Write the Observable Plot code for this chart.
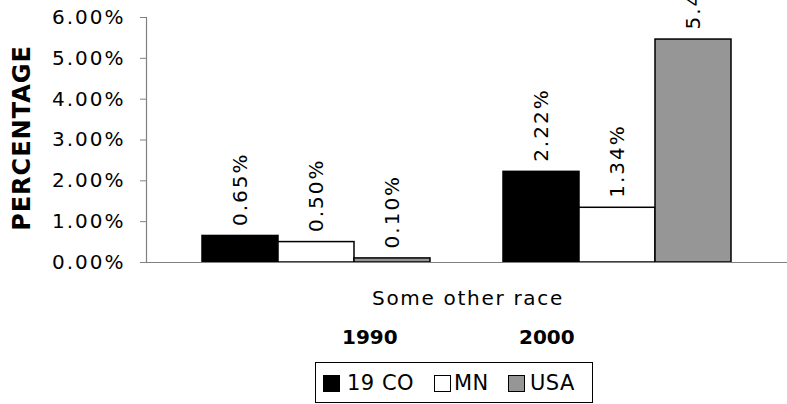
<!DOCTYPE html>
<html>
<head>
<meta charset="utf-8">
<script src="https://cdn.jsdelivr.net/npm/d3@7"></script>
<script src="https://cdn.jsdelivr.net/npm/@observablehq/plot@0.6"></script>
<style>
  html, body { margin: 0; padding: 0; background: #fff; }
  #wrap { position: relative; width: 787px; height: 404px; overflow: hidden; font-family: "DejaVu Sans", Verdana, sans-serif; }
  #wrap svg { position: absolute; left: 0; top: 0; overflow: visible; }
  .ov { position: absolute; white-space: nowrap; color: #000; line-height: 1; }
  .ylab { font-weight: bold; font-size: 24px; letter-spacing: 1px; transform-origin: center; }
  .legend { position: absolute; border: 1px solid #000; box-sizing: border-box; }
  .sw { position: absolute; width: 17px; height: 17px; border: 1.5px solid #000; box-sizing: border-box; }
  .lt { position: absolute; font-size: 21px; letter-spacing: 0.5px; line-height: 1; white-space: nowrap; }
</style>
</head>
<body>
<div id="wrap"></div>
<script>
const years = ["1990", "2000"];
const seriesNames = ["19 CO", "MN", "USA"];
const seriesColors = ["#000000", "#ffffff", "#969696"];
const values19CO = [0.65, 2.22];
const valuesMN = [0.50, 1.34];
const valuesUSA = [0.10, 5.46];
const yTicks = [0, 1, 2, 3, 4, 5, 6];
const categoryLabel = "Some other race";
const yLabel = "PERCENTAGE";

const seriesValues = [values19CO, valuesMN, valuesUSA];
const data = [];
seriesNames.forEach((s, i) => years.forEach((yr, j) => data.push({year: yr, series: s, si: i, value: seriesValues[i][j]})));

const barW = 76;
const marks = [];
seriesNames.forEach((s, i) => {
  const d = data.filter(r => r.series === s);
  marks.push(Plot.barY(d, {
    x: "year", y: "value",
    fill: seriesColors[i], stroke: "#000", strokeWidth: 1.5,
    insetLeft: i * barW, insetRight: (2 - i) * barW
  }));
  marks.push(Plot.text(d, {
    x: "year", y: "value",
    text: r => r.value.toFixed(2) + "%",
    rotate: -90, textAnchor: "start",
    dx: (i - 1) * barW, dy: -10,
    fontSize: 20, fill: "#000"
  }));
});

const chart = Plot.plot({
  width: 787,
  height: 404,
  marginLeft: 146,
  marginRight: 0,
  marginTop: 17,
  marginBottom: 142,
  style: {fontFamily: "'DejaVu Sans', Verdana, sans-serif", fontSize: "20px", background: "transparent", overflow: "visible"},
  x: {type: "band", domain: years, paddingInner: 0.2425, paddingOuter: 0.186, axis: null},
  y: {domain: [0, 6], ticks: yTicks, axis: null},
  marks: [
    Plot.axisY({ticks: yTicks, tickSize: 6, tickFormat: d => d.toFixed(2) + "%", label: null, fontSize: 20, stroke: "#808080", fill: "#000", tickPadding: 15}),
    ...marks,
    Plot.ruleY([0], {stroke: "#808080", strokeWidth: 1.2}),
    Plot.frame({anchor: "left", stroke: "#808080", strokeWidth: 1.2})
  ]
});

const wrap = document.getElementById("wrap");
wrap.appendChild(chart);
d3.select(chart).selectAll("text").attr("letter-spacing", "2px");

function ov(text, css, cls) {
  const el = document.createElement("div");
  el.className = "ov" + (cls ? " " + cls : "");
  el.textContent = text;
  Object.assign(el.style, css);
  wrap.appendChild(el);
  return el;
}
const yl = ov(yLabel, {}, "ylab");
const ylw = yl.offsetWidth, ylh = yl.offsetHeight;
yl.style.left = (22 - ylw / 2) + "px";
yl.style.top = (138 - ylh / 2) + "px";
yl.style.transform = "rotate(-90deg)";

const cat = ov(categoryLabel, {fontSize: "20px", letterSpacing: "1.7px"});
cat.style.left = (468 - cat.offsetWidth / 2) + "px";
cat.style.top = (298 - cat.offsetHeight / 2) + "px";

const yrCenters = [370, 547];
years.forEach((yr, i) => {
  const el = ov(yr, {fontSize: "20px", fontWeight: "bold"});
  el.style.left = (yrCenters[i] - el.offsetWidth / 2) + "px";
  el.style.top = (337 - el.offsetHeight / 2) + "px";
});

const lg = document.createElement("div");
lg.className = "legend";
Object.assign(lg.style, {left: "315px", top: "362px", width: "278px", height: "41px"});
wrap.appendChild(lg);
const swLeft = [323, 434, 508];
const txtLeft = [347, 454, 530];
seriesNames.forEach((s, i) => {
  const sw = document.createElement("div");
  sw.className = "sw";
  Object.assign(sw.style, {left: swLeft[i] + "px", top: "375px", background: seriesColors[i]});
  wrap.appendChild(sw);
  const t = document.createElement("div");
  t.className = "lt";
  t.textContent = s;
  wrap.appendChild(t);
  t.style.left = txtLeft[i] + "px";
  t.style.top = (383.5 - t.offsetHeight / 2) + "px";
});
</script>
</body>
</html>
